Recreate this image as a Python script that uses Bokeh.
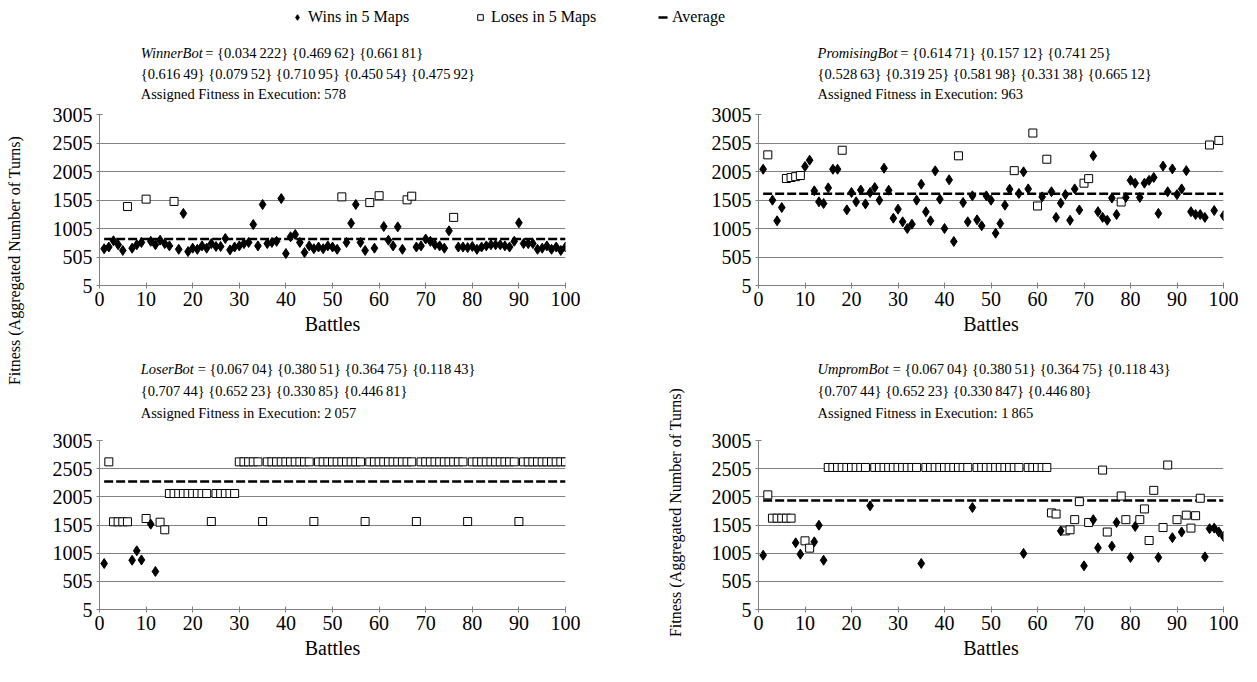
import math
from bokeh.plotting import figure
from bokeh.models import Range1d, FixedTicker, Label, Legend, LegendItem
from bokeh.layouts import column, row
from bokeh.embed import file_html
from bokeh.resources import INLINE
from bokeh.core.properties import value

FONT = "Liberation Serif"
TS = "\u2009"

battles = list(range(1, 101))
x_ticks = [0, 10, 20, 30, 40, 50, 60, 70, 80, 90, 100]
y_ticks = [5, 505, 1005, 1505, 2005, 2505, 3005]

# ---------------- data ----------------
winner_values = [650, 680, 790, 720, 620, 1390, 660, 720, 760, 1520,
                 780, 720, 800, 740, 700, 1480, 640, 1270, 600, 660,
                 640, 700, 660, 740, 690, 690, 830, 630, 680, 700,
                 740, 760, 1075, 700, 1426, 740, 760, 780, 1530, 566,
                 860, 900, 760, 584, 700, 650, 680, 650, 700, 680,
                 640, 1560, 760, 1098, 1426, 760, 620, 1460, 660, 1580,
                 1040, 800, 700, 1034, 640, 1508, 1572, 680, 700, 820,
                 780, 720, 700, 660, 964, 1200, 680, 680, 670, 690,
                 640, 680, 700, 720, 720, 720, 700, 680, 780, 1105,
                 740, 740, 740, 640, 660, 700, 640, 680, 620, 680]
winner_loses = [6, 10, 16, 52, 58, 60, 66, 67, 76]
winner_avg = 820

promising_values = [2045, 2297, 1502, 1140, 1373, 1882, 1900, 1915, 1935, 2093,
                    2204, 1666, 1473, 1443, 1718, 2045, 2045, 2378, 1332, 1636,
                    1473, 1680, 1437, 1636, 1724, 1502, 2063, 1677, 1186, 1344,
                    1122, 1005, 1081, 1502, 1782, 1298, 1140, 2017, 1520, 1005,
                    1859, 777, 2280, 1461, 1122, 1578, 1157, 1052, 1578, 1502,
                    922, 1093, 1414, 1694, 2020, 1620, 2000, 1700, 2680, 1400,
                    1560, 2220, 1650, 1200, 1450, 1600, 1150, 1700, 1330, 1800,
                    1880, 2280, 1300, 1200, 1150, 1540, 1250, 1470, 1550, 1850,
                    1800, 1550, 1800, 1850, 1900, 1270, 2100, 1650, 2050, 1600,
                    1700, 2020, 1300, 1250, 1250, 1200, 2470, 1320, 2550, 1230]
promising_loses = [2, 6, 7, 8, 9, 18, 43, 55, 59, 60, 62, 70, 71, 78, 97, 99]
promising_avg = 1615

loser_values = [821, 2626, 1562, 1562, 1562, 1562, 880, 1047, 885, 1620,
                1520, 680, 1555, 1420, 2064, 2064, 2064, 2064, 2064, 2064,
                2064, 2064, 2064, 1567, 2064, 2064, 2064, 2064, 2064, 2626,
                2626, 2626, 2626, 2626, 1567, 2626, 2626, 2626, 2626, 2626,
                2626, 2626, 2626, 2626, 2626, 1567, 2626, 2626, 2626, 2626,
                2626, 2626, 2626, 2626, 2626, 2626, 1567, 2626, 2626, 2626,
                2626, 2626, 2626, 2626, 2626, 2626, 2626, 1567, 2626, 2626,
                2626, 2626, 2626, 2626, 2626, 2626, 2626, 2626, 1567, 2626,
                2626, 2626, 2626, 2626, 2626, 2626, 2626, 2626, 2626, 1567,
                2626, 2626, 2626, 2626, 2626, 2626, 2626, 2626, 2626, 2626]
loser_wins = [1, 7, 8, 9, 11, 12]
loser_avg = 2275

umprom_values = [969, 2040, 1626, 1626, 1626, 1626, 1626, 1189, 987, 1224,
                 1094, 1206, 1501, 880, 2526, 2526, 2526, 2526, 2526, 2526,
                 2526, 2526, 2526, 1845, 2526, 2526, 2526, 2526, 2526, 2526,
                 2526, 2526, 2526, 2526, 822, 2526, 2526, 2526, 2526, 2526,
                 2526, 2526, 2526, 2526, 2526, 1815, 2526, 2526, 2526, 2526,
                 2526, 2526, 2526, 2526, 2526, 2526, 1000, 2526, 2526, 2526,
                 2526, 2526, 1720, 1700, 1400, 1400, 1420, 1600, 1920, 780,
                 1550, 1600, 1100, 2480, 1380, 1130, 1550, 2020, 1600, 930,
                 1480, 1600, 1790, 1230, 2120, 930, 1460, 2570, 1280, 1600,
                 1380, 1680, 1450, 1670, 1980, 940, 1440, 1450, 1380, 1300]
umprom_wins = [1, 8, 9, 12, 13, 14, 24, 35, 46, 57, 65, 70, 72, 73, 76, 77,
               80, 81, 86, 89, 91, 96, 97, 98, 99, 100]
umprom_avg = 1940

# (italic bot name, pixel offset where the rest of line 1 starts, rest of line 1, line 2, line 3)
titles = {
    "winner": ("WinnerBot", 86,
               "= {0.034" + TS + "222} {0.469" + TS + "62} {0.661" + TS + "81}",
               "{0.616" + TS + "49} {0.079" + TS + "52} {0.710" + TS + "95} {0.450" + TS + "54} {0.475" + TS + "92}",
               "Assigned Fitness in Execution: 578"),
    "promising": ("PromisingBot", 98,
                  "= {0.614" + TS + "71} {0.157" + TS + "12} {0.741" + TS + "25}",
                  "{0.528" + TS + "63} {0.319" + TS + "25} {0.581" + TS + "98} {0.331" + TS + "38} {0.665" + TS + "12}",
                  "Assigned Fitness in Execution: 963"),
    "loser": ("LoserBot", 76,
              "= {0.067" + TS + "04} {0.380" + TS + "51} {0.364" + TS + "75} {0.118" + TS + "43}",
              "{0.707" + TS + "44} {0.652" + TS + "23} {0.330" + TS + "85} {0.446" + TS + "81}",
              "Assigned Fitness in Execution: 2" + TS + "057"),
    "umprom": ("UmpromBot", 89,
               "= {0.067" + TS + "04} {0.380" + TS + "51} {0.364" + TS + "75} {0.118" + TS + "43}",
               "{0.707" + TS + "44} {0.652" + TS + "23} {0.330" + TS + "847} {0.446" + TS + "80}",
               "Assigned Fitness in Execution: 1" + TS + "865"),
}

TITLE_PX = 14.5
TICK_PX = "20px"
GRID = "#808080"
YLABEL = "Fitness (Aggregated Number of Turns)"


def blank(width, height):
    f = figure(width=width, height=height, x_range=Range1d(0, width), y_range=Range1d(0, height),
               output_backend="svg", toolbar_location=None,
               min_border_left=0, min_border_right=0, min_border_top=0, min_border_bottom=0)
    f.axis.visible = False
    f.grid.visible = False
    f.outline_line_color = None
    return f


def title_fig(title, width, height, x0, line_ys):
    f = blank(width, height)
    name, rest_dx, rest1, line2, line3 = title
    common = dict(text_font=value(FONT), text_font_size=f"{TITLE_PX}px", text_baseline="middle",
                  text_color="black", text_align="left")
    f.text(x=[x0], y=[line_ys[0]], text=[name], text_font_style="italic", **common)
    f.text(x=[x0 + rest_dx], y=[line_ys[0]], text=[rest1], **common)
    f.text(x=[x0, x0], y=[line_ys[1], line_ys[2]], text=[line2, line3], **common)
    return f


def make_panel(values, lose_flags, avg, width, height, mbl, mbr, mbt, mbb):
    p = figure(width=width, height=height, x_range=Range1d(0, 100), y_range=Range1d(5, 3005),
               output_backend="svg", toolbar_location=None,
               min_border_left=mbl, min_border_right=mbr, min_border_top=mbt, min_border_bottom=mbb)
    p.outline_line_color = None
    p.xgrid.grid_line_color = None
    p.ygrid.ticker = FixedTicker(ticks=y_ticks)
    p.ygrid.grid_line_color = GRID
    p.xaxis.ticker = FixedTicker(ticks=x_ticks)
    p.yaxis.ticker = FixedTicker(ticks=y_ticks)
    for ax in (p.xaxis[0], p.yaxis[0]):
        ax.axis_line_color = GRID
        ax.major_tick_line_color = GRID
        ax.major_tick_in = 3
        ax.major_tick_out = 3
        ax.minor_tick_line_color = None
        ax.major_label_text_font = FONT
        ax.major_label_text_font_size = TICK_PX
        ax.major_label_text_color = "black"
        ax.axis_label_text_font = FONT
        ax.axis_label_text_font_style = "normal"
        ax.axis_label_text_color = "black"
    p.xaxis.major_label_standoff = 3
    p.xaxis.axis_label = "Battles"
    p.xaxis.axis_label_text_font_size = "20px"
    p.xaxis.axis_label_standoff = 4
    p.yaxis.major_label_standoff = 4

    wx = [b for b, f in zip(battles, lose_flags) if not f]
    wy = [v for v, f in zip(values, lose_flags) if not f]
    lx = [b for b, f in zip(battles, lose_flags) if f]
    ly = [v for v, f in zip(values, lose_flags) if f]
    p.line(x=[battles[0], battles[-1]], y=[avg, avg], line_color="black", line_width=2.5, line_dash="9 3")
    p.scatter(x=lx, y=ly, marker="square", size=8, fill_color="white", line_color="black", line_width=1)
    p.scatter(x=wx, y=wy, marker="diamond", size=10, fill_color="black", line_color="black")
    return p


winner_flags = [b in winner_loses for b in battles]
promising_flags = [b in promising_loses for b in battles]
loser_flags = [b not in loser_wins for b in battles]
umprom_flags = [b not in umprom_wins for b in battles]

# left column: page x 48..670 ; middle label strip 670..698 ; right column 698..1249
t1 = title_fig(titles["winner"], 622, 72, 55, [50, 29, 9])
p1 = make_panel(winner_values, winner_flags, winner_avg, 622, 253, 59, 97, 12, 70)
t3 = title_fig(titles["loser"], 622, 73, 55, [60, 38, 16])
p3 = make_panel(loser_values, loser_flags, loser_avg, 622, 238, 59, 97, 12, 57)

t2 = title_fig(titles["promising"], 551, 72, 70, [50, 29, 9])
p2 = make_panel(promising_values, promising_flags, promising_avg, 551, 253, 66, 18, 12, 70)
t4 = title_fig(titles["umprom"], 551, 73, 70, [60, 38, 16])
p4 = make_panel(umprom_values, umprom_flags, umprom_avg, 551, 238, 68, 16, 12, 57)

# ---------------- legend strip ----------------
leg = figure(width=1241, height=30, x_range=Range1d(0, 1), y_range=Range1d(0, 1),
             output_backend="svg", toolbar_location=None,
             min_border_left=0, min_border_right=0, min_border_top=0, min_border_bottom=0)
leg.axis.visible = False
leg.grid.visible = False
leg.outline_line_color = None
r_w = leg.scatter(x=[-5], y=[-5], marker="diamond", size=10, fill_color="black", line_color="black")
r_l = leg.scatter(x=[-5], y=[-5], marker="square", size=8, fill_color="white", line_color="black")
r_a = leg.line(x=[-5, -4], y=[-5, -5], line_color="black", line_width=2.5, line_dash="9 3")
for rend, lab, xpos, gw in ((r_w, "Wins in 5 Maps", 290, 14), (r_l, "Loses in 5 Maps", 473, 14),
                            (r_a, "Average", 658, 10)):
    lg = Legend(items=[LegendItem(label=lab, renderers=[rend])], location=(xpos, 4),
                orientation="horizontal", glyph_width=gw, glyph_height=14, label_standoff=4,
                padding=0, margin=0, border_line_color=None, background_fill_alpha=0,
                label_text_font=FONT, label_text_font_size="16px", label_text_color="black")
    leg.add_layout(lg, "center")

# ---------------- y label strips ----------------
lab_left = blank(40, 636)
lab_left.add_layout(Label(x=14, y=406, x_units="screen", y_units="screen", text=YLABEL, angle=math.pi / 2,
                          text_font=FONT, text_font_size="16px", text_align="center", text_baseline="middle",
                          text_color="black"))
lab_mid = blank(28, 636)
lab_mid.add_layout(Label(x=13, y=154, x_units="screen", y_units="screen", text=YLABEL, angle=math.pi / 2,
                         text_font=FONT, text_font_size="16px", text_align="center", text_baseline="middle",
                         text_color="black"))

layout = column(leg, row(lab_left, column(t1, p1, t3, p3), lab_mid, column(t2, p2, t4, p4)))

open("out.html", "w").write(file_html(layout, INLINE))
